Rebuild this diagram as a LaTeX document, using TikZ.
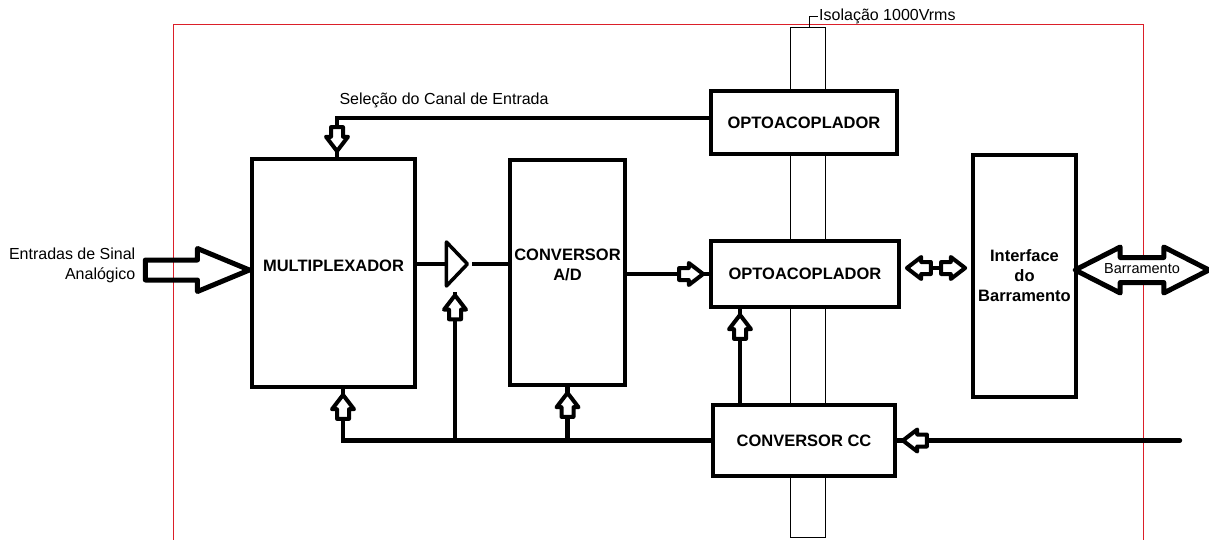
\documentclass[tikz,border=0pt]{standalone}
\usepackage{fontspec}
\setmainfont{Liberation Sans}
\usetikzlibrary{arrows.meta,positioning,shapes.arrows,shapes.geometric}
\definecolor{redline}{rgb}{0.86,0.12,0.16}

\begin{document}
\begin{tikzpicture}[x=1pt,y=-1pt,font=\fontsize{16}{20}\selectfont,
  blk/.style={draw,line width=4.2pt,fill=white,align=center,inner sep=0pt,font=\fontsize{16.5}{20}\selectfont\bfseries},
  lbl/.style={align=center,font=\fontsize{16.5}{20}\selectfont\bfseries},
  wire/.style={line width=4.2pt},
  hollow/.style={single arrow,draw,line width=4pt,line join=round,fill=white,minimum height=24pt,minimum width=18pt,inner sep=4pt,single arrow head extend=5pt,single arrow tip angle=75,shape border rotate=#1}]
  \useasboundingbox (0,0) rectangle (1209,540);
  % red frame and isolation barrier
  \draw[draw=redline,line width=1pt] (173,540) |- (1143,25) -- (1143,540);
  \node[draw,line width=0.8pt,fill=white,minimum width=35pt,minimum height=510pt,inner sep=0pt] (iso) at (807.5,282) {};
  \node[anchor=west,inner sep=1pt] (isolbl) at (818,16) {Isolação 1000Vrms};
  \draw[line width=0.8pt] ([xshift=1.5pt]iso.north) |- (isolbl.west);
  % blocks
  \node[blk,minimum width=163pt,minimum height=228pt] (mux) at (333.5,273) {};
  \node[lbl] at ([yshift=7pt]mux.center) {MULTIPLEXADOR};
  \node[blk,minimum width=115pt,minimum height=225pt] (ad) at (567.5,272.5) {};
  \node[lbl] at ([yshift=7.5pt]ad.center) {CONVERSOR\\A/D};
  \node[blk,minimum width=186pt,minimum height=63pt] (optop) at (804,122.5) {OPTOACOPLADOR};
  \node[blk,minimum width=188pt,minimum height=66pt] (optmid) at (805,274) {OPTOACOPLADOR};
  \node[blk,minimum width=103pt,minimum height=242pt] (iface) at (1024.5,276) {Interface\\do\\Barramento};
  \node[blk,minimum width=182pt,minimum height=71pt] (cc) at (804,440.5) {CONVERSOR CC};
  \node[isosceles triangle,isosceles triangle stretches,draw,line width=3.5pt,line join=round,fill=white,minimum width=44pt,minimum height=21pt,inner sep=0pt,anchor=apex] (amp) at (472,264) {};
  % analog input and bus
  \node[single arrow,draw,line width=5pt,line join=round,minimum height=104pt,minimum width=38pt,inner sep=7.5pt,single arrow head extend=11.5pt,single arrow tip angle=45,anchor=tip,xshift=6pt,yshift=3pt] (inarrow) at (mux.west) {};
  \node[align=right,anchor=east,xshift=-4pt,yshift=5pt] (inlbl) at (inarrow.tail) {Entradas de Sinal\\Analógico};
  \node[double arrow,draw,line width=5pt,line join=round,fill=white,minimum height=125pt,minimum width=41pt,inner xsep=2pt,inner ysep=3.5pt,text height=10pt,text depth=3pt,double arrow head extend=10.5pt,double arrow tip angle=54,font=\fontsize{14.5}{16}\selectfont] (bus) at (1142,270) {Barramento};
  % connectors
  \coordinate (sel) at (337,118);
  \coordinate (busx) at (343,441);
  \coordinate (pwr) at (1180,440.5);
  \node[anchor=west] (sellbl) at (336,100) {Seleção do Canal de Entrada};
  \draw[wire] ([yshift=4.5pt]optop.west) -| (sel |- mux.north);
  \node[hollow=270,anchor=tip,yshift=2.5pt] (selin) at (sel |- mux.north) {};
  \draw[wire] (mux.east |- amp.west) -- (amp.west);
  \draw[wire] (amp.apex) -- (ad.west |- amp.apex);
  \draw[wire] (ad.east |- optmid.west) -- (optmid.west);
  \node[hollow=0,anchor=tip,xshift=-2.5pt] (adout) at (optmid.west) {};
  \draw[wire] (cc.west) -| (busx |- mux.south);
  \node[hollow=90,anchor=tip,yshift=-2.5pt] (muxin) at (busx |- mux.south) {};
  \draw[wire] (455,292) -- (455,440.5);
  \node[hollow=90,anchor=tip] (ampin) at (455,292) {};
  \draw[wire] (ad.south) -- (ad.south |- cc.west);
  \node[hollow=90,anchor=tip,yshift=-2.5pt] (adin) at (ad.south) {};
  \draw[wire] ([xshift=-65pt]optmid.south) -- ([xshift=-65pt]optmid.south |- cc.north);
  \node[hollow=90,anchor=tip,xshift=-65pt,yshift=-2.5pt] (optin) at (optmid.south) {};
  \node[hollow=180,anchor=tip,xshift=2.5pt,yshift=6pt] (ifl) at (optmid.east) {};
  \node[hollow=0,anchor=tip,xshift=-2.5pt] (ifr) at (iface.west |- ifl) {};
  \draw[wire] (ifl.tail) -- (ifr.tail);
  \draw[wire,line cap=round] (cc.east) -- (pwr);
  \node[hollow=180,anchor=tip,xshift=2.5pt] (ccin) at (cc.east) {};
\end{tikzpicture}
\end{document}
